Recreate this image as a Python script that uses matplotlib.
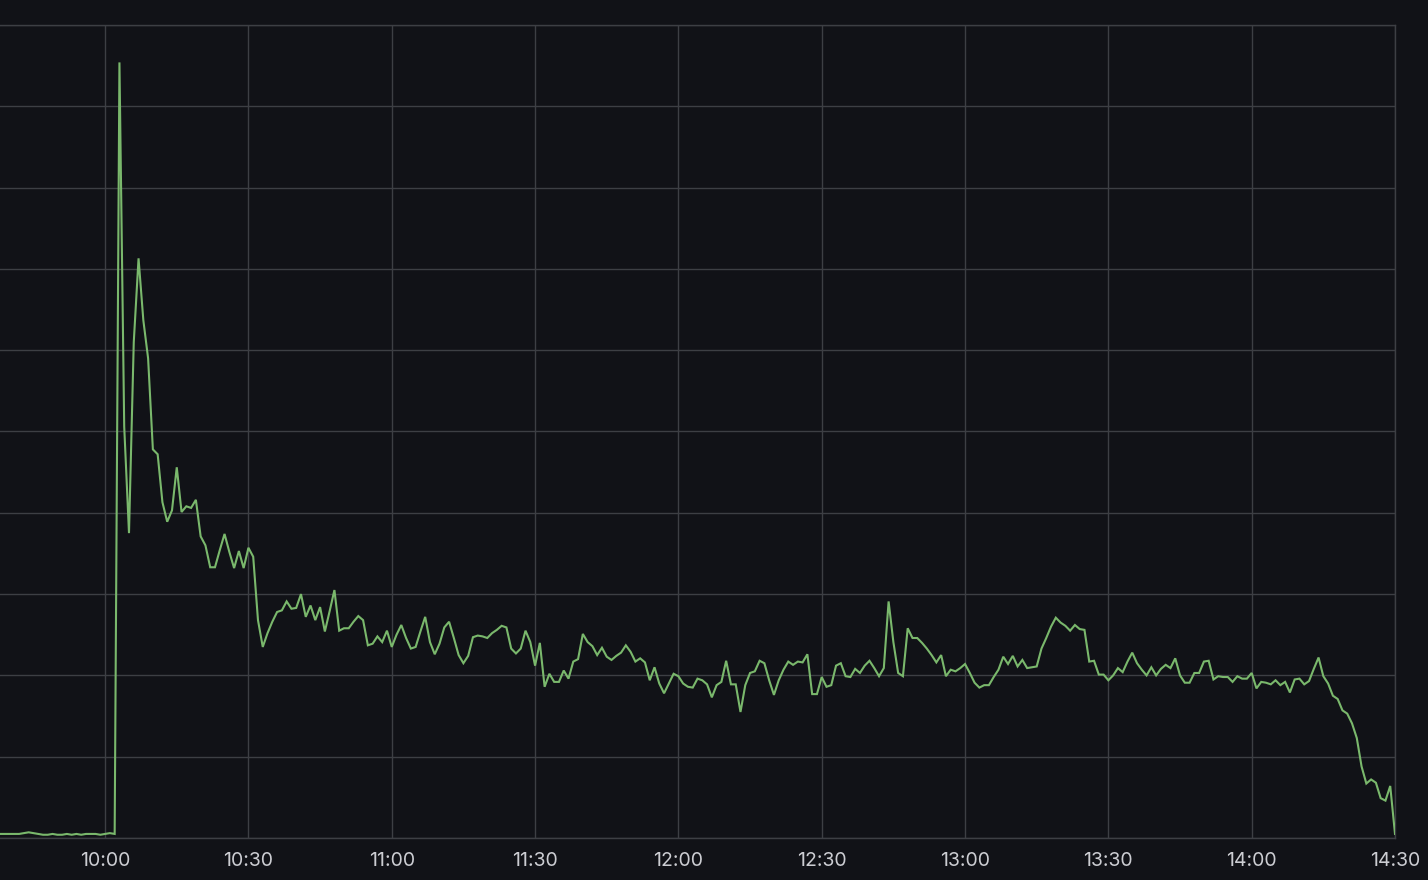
import matplotlib
matplotlib.use("Agg")
import matplotlib.pyplot as plt

# time in minutes since midnight (one sample per minute), values in chart units
start_minute = 578
values = [
    # 9:38 - 10:02 (flat)
    0.5, 0.5, 0.5, 0.5, 0.5, 0.6, 0.7, 0.6, 0.5, 0.4,
    0.4, 0.5, 0.4, 0.4, 0.5, 0.4, 0.5, 0.4, 0.5, 0.5,
    0.5, 0.4, 0.5, 0.6, 0.5,
    # 10:03 - 10:49
    95.4, 50.6, 37.5, 61.0, 71.3, 63.7, 59.0, 47.8, 47.2, 41.3,
    38.9, 40.3, 45.6, 40.1, 40.8, 40.6, 41.6, 37.1, 36.0, 33.3,
    33.3, 35.4, 37.4, 35.2, 33.2, 35.3, 33.2, 35.7, 34.6, 26.8,
    23.5, 25.2, 26.6, 27.8, 28.0, 29.1, 28.2, 28.3, 30.0, 27.2,
    28.6, 26.8, 28.4, 25.4, 27.9, 30.5, 25.5,
    # 10:50 - 11:39
    25.8, 25.8, 26.6, 27.3, 26.8, 23.7, 23.9, 24.8, 24.1, 25.5,
    23.5, 25.0, 26.2, 24.6, 23.3, 23.5, 25.4, 27.2, 24.1, 22.6,
    23.9, 25.9, 26.6, 24.6, 22.5, 21.5, 22.4, 24.7, 24.9, 24.8,
    24.6, 25.2, 25.6, 26.1, 25.9, 23.3, 22.7, 23.3, 25.5, 24.1,
    21.2, 24.0, 18.6, 20.2, 19.2, 19.2, 20.6, 19.6, 21.7, 22.0,
    # 11:40 - 12:29
    25.1, 24.1, 23.6, 22.5, 23.4, 22.3, 21.9, 22.4, 22.8, 23.7,
    22.9, 21.7, 22.1, 21.6, 19.4, 21.0, 19.0, 17.8, 19.0, 20.2,
    19.9, 19.0, 18.6, 18.5, 19.6, 19.4, 18.9, 17.3, 18.8, 19.2,
    21.8, 18.9, 18.9, 15.5, 18.8, 20.3, 20.5, 21.8, 21.5, 19.4,
    17.6, 19.4, 20.7, 21.7, 21.3, 21.7, 21.6, 22.6, 17.7, 17.7,
    # 12:30 - 13:19
    19.8, 18.6, 18.8, 21.2, 21.5, 19.9, 19.8, 20.8, 20.3, 21.2,
    21.8, 20.9, 19.9, 20.9, 29.1, 24.1, 20.3, 19.9, 25.8, 24.6,
    24.6, 24.0, 23.3, 22.5, 21.6, 22.5, 19.9, 20.7, 20.5, 20.9,
    21.4, 20.3, 19.1, 18.5, 18.8, 18.8, 19.8, 20.7, 22.3, 21.4,
    22.4, 21.1, 21.9, 20.9, 21.0, 21.1, 23.3, 24.6, 26.0, 27.1,
    # 13:20 - 14:09
    26.5, 26.1, 25.5, 26.2, 25.7, 25.6, 21.7, 21.8, 20.1, 20.1,
    19.4, 20.0, 20.9, 20.4, 21.7, 22.8, 21.5, 20.7, 20.0, 21.0,
    20.0, 20.8, 21.3, 20.9, 22.1, 20.0, 19.1, 19.1, 20.3, 20.3,
    21.7, 21.8, 19.5, 19.9, 19.8, 19.8, 19.2, 19.9, 19.6, 19.6,
    20.3, 18.4, 19.2, 19.1, 18.9, 19.4, 18.8, 19.2, 17.9, 19.5,
    # 14:10 - 14:30
    19.6, 18.9, 19.3, 20.8, 22.2, 19.9, 19.0, 17.5, 17.1, 15.7,
    15.3, 14.1, 12.3, 8.8, 6.7, 7.2, 6.8, 4.9, 4.6, 6.4,
    0.5,
]
minutes = [start_minute + i for i in range(len(values))]

tick_minutes = [600, 630, 660, 690, 720, 750, 780, 810, 840, 870]
tick_labels = ["10:00", "10:30", "11:00", "11:30", "12:00", "12:30",
               "13:00", "13:30", "14:00", "14:30"]
y_grid = [0, 10, 20, 30, 40, 50, 60, 70, 80, 90, 100]

BG = "#111217"
GRID = "#3d3f44"
LINE = "#7ab86c"
TEXT = "#cccdd2"

plt.rcParams['font.family'] = ['Inter', 'DejaVu Sans']

fig = plt.figure(figsize=(14.28, 8.8), dpi=100, facecolor=BG)
ax = fig.add_axes([0.0, 42 / 880, 1395 / 1428, (838 - 25) / 880])
ax.set_facecolor(BG)

ax.plot(minutes, values, color=LINE, linewidth=1.5, solid_joinstyle="miter", zorder=3)

ax.set_xlim(578.0, 870.0)
ax.set_ylim(0, 100)
ax.set_xticks(tick_minutes)
ax.set_xticklabels(tick_labels)
ax.set_yticks(y_grid)
ax.set_yticklabels([])
ax.grid(True, color=GRID, linewidth=1.0)
ax.tick_params(axis="x", length=0, pad=10, labelsize=14, labelcolor=TEXT)
ax.tick_params(axis="y", length=0)
for s in ax.spines.values():
    s.set_visible(False)
for v in [0, 100]:
    ax.axhline(v, color=GRID, linewidth=1.0, zorder=1, clip_on=False)
ax.axvline(870, color=GRID, linewidth=1.0, zorder=1, clip_on=False)

fig.savefig("out.png", dpi=100, facecolor=BG)
